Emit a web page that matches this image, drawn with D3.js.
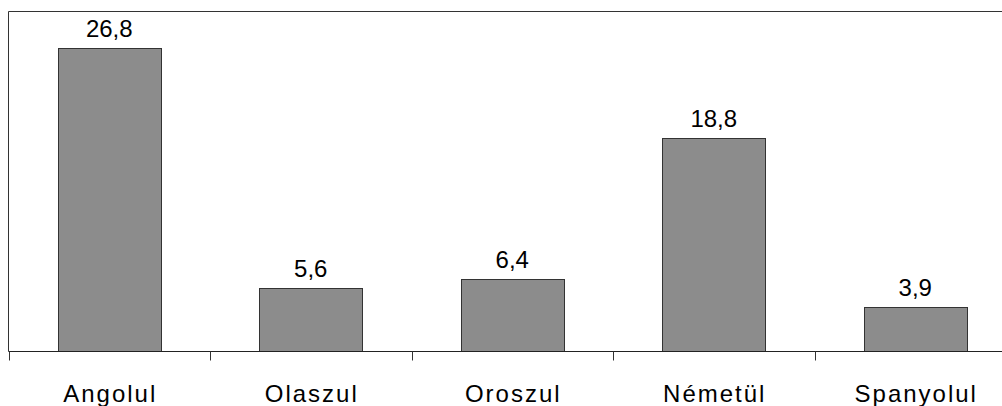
<!DOCTYPE html>
<html>
<head>
<meta charset="utf-8">
<script src="https://cdn.jsdelivr.net/npm/d3@7"></script>
<style>
  body { margin: 0; background: #fff; }
  text { font-family: "Liberation Sans", Arial, sans-serif; fill: #000; }
</style>
</head>
<body>
<svg id="chart" width="1002" height="406"></svg>
<script>
// Data
const categories = ["Angolul", "Olaszul", "Oroszul", "Németül", "Spanyolul"];
const values = [26.8, 5.6, 6.4, 18.8, 3.9];
const valueLabels = ["26,8", "5,6", "6,4", "18,8", "3,9"];

const svg = d3.select("#chart"),
  plotLeft = 8.5, plotRight = 1016, plotTop = 11.5, plotBottom = 351.5;

// Scales
const x = d3.scaleBand()
  .domain(categories)
  .range([plotLeft, plotRight])
  .padding(0);

const y = d3.scaleLinear()
  .domain([0, 30])
  .range([plotBottom, plotTop]);

const barW = x.bandwidth() * 0.51;

// frame (left + top, right edge runs off the window)
svg.append("path")
  .attr("d", `M${plotLeft},${plotBottom} V${plotTop} H${plotRight} V${plotBottom}`)
  .attr("fill", "none")
  .attr("stroke", "#333")
  .attr("stroke-width", 1);

// bars
svg.append("g")
  .selectAll("rect")
  .data(values)
  .enter()
  .append("rect")
    .attr("x", (d, i) => Math.round(x(categories[i]) + (x.bandwidth() - barW) / 2) + 0.5)
    .attr("y", d => Math.round(y(d)) + 0.5)
    .attr("width", Math.round(barW))
    .attr("height", d => plotBottom - Math.round(y(d)) - 0.5)
    .attr("fill", "#8c8c8c")
    .attr("stroke", "#333")
    .attr("stroke-width", 1);

// value labels
svg.append("g")
  .selectAll("text")
  .data(values)
  .enter()
  .append("text")
    .attr("x", (d, i) => x(categories[i]) + x.bandwidth() / 2)
    .attr("y", d => y(d) - 11)
    .attr("text-anchor", "middle")
    .style("font-size", "24px")
    .text((d, i) => valueLabels[i]);

// category axis
const axis = d3.axisBottom(x).tickSize(0).tickFormat("");
const gx = svg.append("g")
  .attr("transform", `translate(0,${plotBottom})`)
  .call(axis);
gx.select(".domain").attr("stroke", "#222").attr("d", `M${plotLeft},0 H${plotRight}`);

// tick marks at category boundaries
const bounds = categories.map(c => x(c)).concat([plotRight]);
svg.append("g")
  .selectAll("line")
  .data(bounds)
  .enter()
  .append("line")
    .attr("x1", d => Math.round(d) + 0.5)
    .attr("x2", d => Math.round(d) + 0.5)
    .attr("y1", plotBottom)
    .attr("y2", plotBottom + 9)
    .attr("stroke", "#333");

// category labels
svg.append("g")
  .selectAll("text")
  .data(categories)
  .enter()
  .append("text")
    .attr("x", d => x(d) + x.bandwidth() / 2 + 1)
    .attr("y", 402)
    .attr("text-anchor", "middle")
    .style("font-size", "24px")
    .style("letter-spacing", "2px")
    .text(d => d);
</script>
</body>
</html>
